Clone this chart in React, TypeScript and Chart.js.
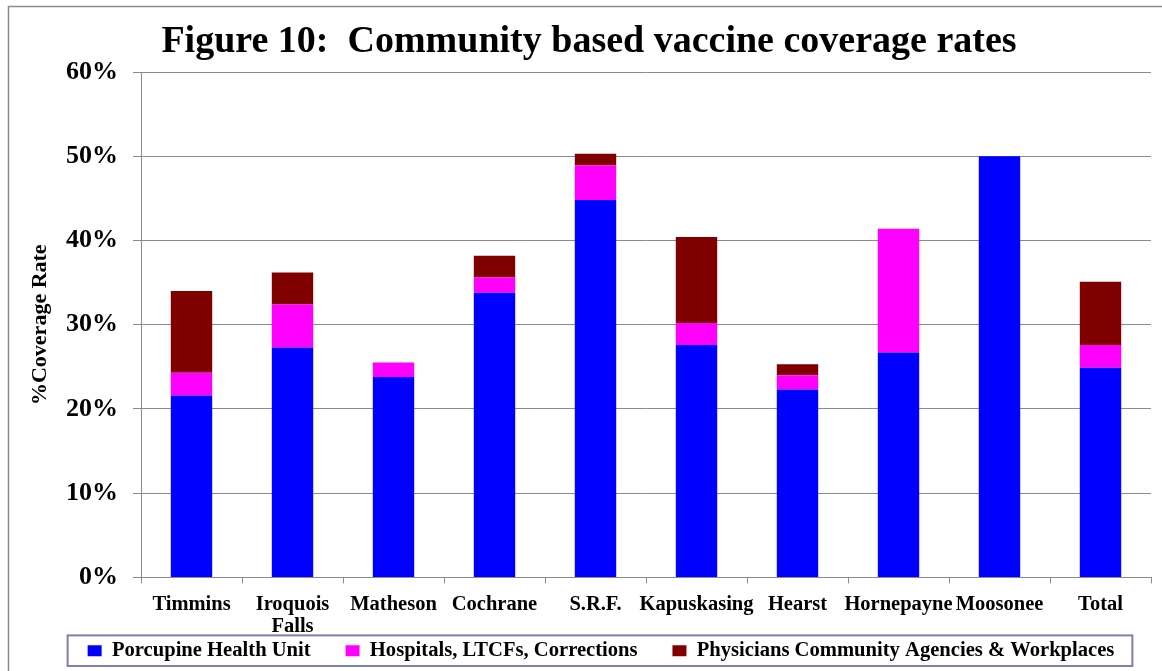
import React, { useEffect, useRef } from "react";
import { Chart, registerables } from "chart.js";

Chart.register(...registerables);

const categories: (string | string[])[] = [
  "Timmins",
  ["Iroquois", "Falls"],
  "Matheson",
  "Cochrane",
  "S.R.F.",
  "Kapuskasing",
  "Hearst",
  "Hornepayne",
  "Moosonee",
  "Total",
];

const porcupineHealthUnit = [21.6, 27.3, 23.8, 33.8, 44.8, 27.6, 22.3, 26.7, 50.0, 24.9];
const hospitalsLTCFs = [2.7, 5.1, 1.7, 1.8, 4.1, 2.6, 1.7, 14.7, 0, 2.7];
const physiciansAgencies = [9.7, 3.8, 0, 2.6, 1.4, 10.2, 1.3, 0, 0, 7.5];

const seriesNames = [
  "Porcupine Health Unit",
  "Hospitals, LTCFs, Corrections",
  "Physicians Community Agencies & Workplaces",
];

const titleText = "Figure 10:  Community based vaccine coverage rates";
const yAxisTitle = "%Coverage Rate";
const yMin = 0;
const yMax = 60;
const yStep = 10;

const FONT = "'Times New Roman', 'Liberation Serif', serif";
const LEGEND_PAD = 4;
const LEGEND_GAP = "\u00a0\u00a0\u00a0\u00a0\u00a0\u00a0";
const LEGEND_SHIFT = 12;

const framePlugin = {
  id: "frame",
  afterLayout(chart: any) {
    const lg = chart.legend;
    if (lg) {
      lg.left += LEGEND_SHIFT;
      lg.right += LEGEND_SHIFT;
    }
  },
  afterDraw(chart: any) {
    const ctx = chart.ctx;
    ctx.save();
    ctx.strokeStyle = "#8a8a8a";
    ctx.lineWidth = 1.5;
    ctx.beginPath();
    ctx.moveTo(8.5, chart.height);
    ctx.lineTo(8.5, 6.5);
    ctx.lineTo(chart.width, 6.5);
    ctx.stroke();

    const lg = chart.legend;
    if (lg && lg.legendHitBoxes && lg.legendHitBoxes.length) {
      const hb = lg.legendHitBoxes;
      let l = Infinity, r = -Infinity, t = Infinity, b = -Infinity;
      hb.forEach((h: any) => {
        l = Math.min(l, h.left);
        r = Math.max(r, h.left + h.width);
        t = Math.min(t, h.top);
        b = Math.max(b, h.top + h.height);
      });
      ctx.strokeStyle = "#8080ae";
      ctx.lineWidth = 2;
      ctx.strokeRect(l - 20, t - 5, r - l + 38, b - t + 10);
    }
    ctx.restore();
  },
};

export default function App() {
  const ref = useRef<HTMLCanvasElement | null>(null);

  useEffect(() => {
    if (!ref.current) return;
    const chart = new Chart(ref.current, {
      type: "bar",
      data: {
        labels: categories,
        datasets: [
          { label: seriesNames[0], data: porcupineHealthUnit, backgroundColor: "#0000ff", borderWidth: 0 },
          { label: seriesNames[1], data: hospitalsLTCFs, backgroundColor: "#ff00ff", borderWidth: 0 },
          { label: seriesNames[2], data: physiciansAgencies, backgroundColor: "#800000", borderWidth: 0 },
        ],
      },
      plugins: [framePlugin],
      options: {
        responsive: false,
        animation: false,
        layout: { padding: { left: 27, right: 11, top: 0, bottom: 0 } },
        datasets: {
          bar: { barPercentage: 0.41, categoryPercentage: 1 },
        },
        plugins: {
          title: {
            display: true,
            text: titleText,
            color: "#000",
            font: { family: FONT, size: 38, weight: "bold", lineHeight: 1.2 },
            padding: { top: 19.5, bottom: 6.9 },
          },
          legend: {
            display: true,
            position: "bottom",
            labels: {
              color: "#000",
              font: { family: FONT, size: 20.6, weight: "bold" },
              boxWidth: 14,
              boxHeight: 11,
              padding: LEGEND_PAD,
              generateLabels(chart: any) {
                const items = Chart.defaults.plugins.legend.labels.generateLabels(chart);
                return items.map((it: any, i: number) => ({
                  ...it,
                  text: i < items.length - 1 ? it.text + LEGEND_GAP : it.text,
                }));
              },
            },
          },
          tooltip: { enabled: false },
        },
        scales: {
          x: {
            stacked: true,
            grid: {
              display: true,
              drawOnChartArea: false,
              drawTicks: true,
              tickLength: 6,
              color: "#8a8a8a",
              offset: true,
            },
            border: { display: true, color: "#8a8a8a", width: 1 },
            ticks: {
              color: "#000",
              font: { family: FONT, size: 20.5, weight: "bold", lineHeight: 1.07 },
              padding: 10,
              autoSkip: false,
              maxRotation: 0,
              minRotation: 0,
            },
            afterFit(scale: any) {
              scale.height = 59;
            },
          },
          y: {
            stacked: true,
            min: yMin,
            max: yMax,
            grid: {
              color: "#8a8a8a",
              lineWidth: 1,
              drawTicks: true,
              tickLength: 8,
            },
            border: { display: true, color: "#8a8a8a", width: 1 },
            ticks: {
              stepSize: yStep,
              color: "#000",
              padding: 15,
              font: { family: FONT, size: 26, weight: "bold" },
              callback: (v: any) => v + "%",
            },
            title: {
              display: true,
              text: yAxisTitle,
              color: "#000",
              font: { family: FONT, size: 22, weight: "bold", lineHeight: 1.2 },
              padding: { top: 0, bottom: 0 },
            },
            afterFit(scale: any) {
              scale.width = 114;
            },
          },
        },
      },
    } as any);
    return () => chart.destroy();
  }, []);

  return (
    <div style={{ position: "absolute", left: 0, top: 0, width: 1162, height: 671, background: "#fff" }}>
      <canvas ref={ref} width={1162} height={671} style={{ display: "block" }} />
    </div>
  );
}
